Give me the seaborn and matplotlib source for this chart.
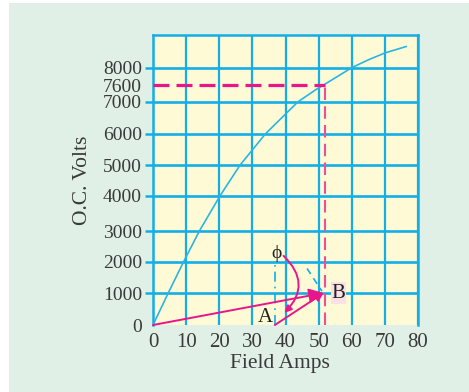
import matplotlib.pyplot as plt
import seaborn as sns
import pandas as pd
import numpy as np
from matplotlib.patches import Rectangle, Arc

# open-circuit characteristic
field_amps = [0, 4.6, 9.2, 14, 20.2, 26.3, 33.9, 43.7, 49.2, 51.5, 60, 65, 70, 76.5]
oc_volts = [0, 1000, 2000, 3000, 4000, 5000, 6000, 7000, 7440, 7600, 8000, 8240, 8450, 8650]

y_ticks = [0, 1000, 2000, 3000, 4000, 5000, 6000, 7000, 7600, 8000]
x_ticks = [0, 10, 20, 30, 40, 50, 60, 70, 80]

# the printed volt scale is not evenly spaced: value -> height of the tick (pixels)
scale_volts = [0, 1000, 2000, 3000, 4000, 5000, 6000, 7000, 7600, 8000, 9000]
scale_height = [0, 32, 63, 94, 129, 160, 191, 223, 240, 257.3, 290]

# construction points
point_o = (0, 0)
point_a = (36.8, 0)
point_b = (51.5, 1000)
rated_volts = 7600
rated_amps = 51.8

df = pd.DataFrame({'amps': field_amps, 'volts': oc_volts})

sns.set_style('white')
plt.rcParams['font.family'] = ['Liberation Serif', 'DejaVu Serif']

cyan = '#12aee6'
pink = '#e8168a'
text_col = '#3a3a3a'


def fwd(v):
    return np.interp(v, scale_volts, scale_height)


def inv(h):
    return np.interp(h, scale_height, scale_volts)


fig = plt.figure(figsize=(4.69, 3.92), dpi=100)
fig.patch.set_facecolor('white')
fig.patches.append(Rectangle((9 / 469, 0), 1, 1 - 3 / 392, transform=fig.transFigure,
                             facecolor='#e1f0e6', edgecolor='none', zorder=-10))
ax = fig.add_axes([153 / 469, 67 / 392, 265 / 469, 290 / 392])
ax.set_facecolor('#fffad6')
ax.set_yscale('function', functions=(fwd, inv))

ax.set_xlim(0, 80)
ax.set_ylim(0, 9000)

# grid
for v in [1000, 2000, 3000, 4000, 5000, 6000, 7000, 8000]:
    ax.axhline(v, color=cyan, lw=1.9, zorder=1)
for v in x_ticks[1:]:
    ax.axvline(v, color=cyan, lw=1.6, zorder=1)

sns.lineplot(data=df, x='amps', y='volts', ax=ax, color='#2ab4e4', lw=1.2, zorder=3)

# rated voltage construction
ax.plot([0, rated_amps], [rated_volts, rated_volts], color=pink, lw=2.3,
        dashes=(5, 2.2), zorder=4)
ax.plot([rated_amps, rated_amps], [0, rated_volts], color='#ef4f9a', lw=1.5,
        dashes=(6, 3), zorder=4)

# phasor diagram
ax.plot([point_a[0], point_a[0]], [0, 2050], color=cyan, lw=1.2,
        dashes=(6, 3, 1, 3), zorder=3)
ax.plot([46.5, 51], [1790, 1060], color=cyan, lw=1.2, dashes=(4, 3), zorder=3)
ax.add_patch(Arc(point_a, 6, 900, theta1=0, theta2=70, color=cyan, lw=1.3, zorder=3))

ax.annotate('', xy=point_b, xytext=point_o,
            arrowprops=dict(arrowstyle='-|>', color=pink, lw=1.4,
                            mutation_scale=22, shrinkA=0, shrinkB=0), zorder=5)
ax.annotate('', xy=point_b, xytext=point_a,
            arrowprops=dict(arrowstyle='-|>', color=pink, lw=1.4,
                            mutation_scale=12, shrinkA=0, shrinkB=0), zorder=5)
ax.annotate('', xy=(39.7, 380), xytext=(39.4, 2200),
            arrowprops=dict(arrowstyle='-|>', color=pink, lw=1.4,
                            mutation_scale=10, shrinkA=0, shrinkB=0,
                            connectionstyle='arc3,rad=-0.5'), zorder=5)

ax.text(37.2, 2260, 'ϕ', ha='center', va='center', fontsize=14, color='#222222')
ax.text(56, 1000, 'B', ha='center', va='center', fontsize=15, color='#222222',
        bbox=dict(boxstyle='square,pad=0.05', fc='#fbe1e6', ec='none'))
ax.text(34.0, 230, 'A', ha='center', va='center', fontsize=15, color='#222222')

# axes frame
for side in ['left', 'top', 'right']:
    ax.spines[side].set_color(cyan)
    ax.spines[side].set_linewidth(1.8)
ax.spines['bottom'].set_visible(False)

ax.set_xticks(x_ticks)
ax.set_yticks(y_ticks)
ax.set_yticklabels([str(t) for t in y_ticks])
ax.yaxis.set_minor_locator(plt.NullLocator())
ax.tick_params(axis='y', length=6, width=1.8, color=cyan, pad=2,
               labelsize=14, labelcolor=text_col, left=True)
ax.tick_params(axis='x', length=0, pad=6, labelsize=15, labelcolor=text_col)
yt = ax.yaxis.get_major_ticks()
yt[0].tick1line.set_visible(False)
yt[y_ticks.index(7600)].tick1line.set_visible(False)

ax.set_xlabel('Field Amps', fontsize=15.5, color=text_col)
ax.xaxis.set_label_coords(0.48, -0.1)
ax.set_ylabel('O.C. Volts', fontsize=15.5, color=text_col, labelpad=8)

fig.savefig('out.png', dpi=100)
